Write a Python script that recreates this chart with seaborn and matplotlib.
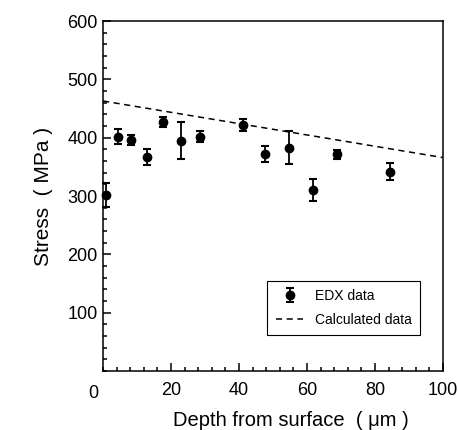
import seaborn as sns
import matplotlib.pyplot as plt
import pandas as pd
from matplotlib.ticker import MultipleLocator

# EDX measurements (depth in um, stress in MPa, error in MPa)
depth = [1, 4.5, 8.2, 12.8, 17.7, 22.8, 28.5, 41.1, 47.8, 54.7, 61.7, 68.7, 84.4]
stress = [302, 402, 396, 367, 427, 395, 402, 422, 372, 383, 310, 372, 342]
stress_err = [20, 12.5, 8.6, 13.4, 8, 32, 9, 10, 14.3, 28, 18.5, 7.7, 14.3]

# calculated stress profile
calc_depth = [0, 100]
calc_stress = [463, 366]

edx = pd.DataFrame({'depth': depth, 'stress': stress, 'err': stress_err})
calc = pd.DataFrame({'depth': calc_depth, 'stress': calc_stress})

sns.set_theme(style='ticks')
plt.rcParams['font.family'] = ['Liberation Sans', 'DejaVu Sans']
plt.rcParams.update({'text.color': 'black', 'axes.labelcolor': 'black',
                     'xtick.color': 'black', 'ytick.color': 'black'})

fig = plt.figure(figsize=(4.58, 4.30), dpi=100)
ax = fig.add_axes([0.225, 0.137, 0.742, 0.814])

sns.lineplot(data=calc, x='depth', y='stress', ax=ax, color='black',
             linewidth=1.1, linestyle=(0, (4, 3)), label='Calculated data')
ax.errorbar(edx['depth'], edx['stress'], yerr=edx['err'], fmt='o',
            color='black', markersize=6, capsize=3, elinewidth=1.3,
            capthick=1.5, label='EDX data', clip_on=False, zorder=3)

ax.set_xlim(0, 100)
ax.set_ylim(0, 600)
ax.xaxis.set_major_locator(MultipleLocator(20))
ax.xaxis.set_minor_locator(MultipleLocator(4))
ax.yaxis.set_major_locator(MultipleLocator(100))
ax.yaxis.set_minor_locator(MultipleLocator(20))
ax.tick_params(which='both', direction='in', top=False, right=False,
               color='black', width=1.1)
ax.tick_params(which='major', length=6, labelsize=13)
ax.tick_params(which='minor', length=3)
ax.tick_params(axis='x', pad=8)
ax.tick_params(axis='y', pad=4)

# shared "0" in the corner, like the original
ax.set_xticks([20, 40, 60, 80, 100])
ax.set_yticks([100, 200, 300, 400, 500, 600])
ax.text(-0.03, -0.065, '0', transform=ax.transAxes, ha='center', va='center',
        fontsize=13)

for s in ax.spines.values():
    s.set_linewidth(1.1)
    s.set_color('black')

ax.set_xlabel('Depth from surface  ( μm )', fontsize=14.5)
ax.xaxis.set_label_coords(0.553, -0.115)
ax.set_ylabel('Stress  ( MPa )', fontsize=15, labelpad=10)

handles, labels = ax.get_legend_handles_labels()
order = [labels.index('EDX data'), labels.index('Calculated data')]
leg = ax.legend([handles[i] for i in order], [labels[i] for i in order],
                loc='lower right', bbox_to_anchor=(0.932, 0.103), fontsize=10,
                fancybox=False, edgecolor='black', framealpha=1,
                handlelength=2, borderpad=0.6, labelspacing=0.7,
                borderaxespad=0)
leg.get_frame().set_linewidth(0.8)

fig.savefig('out.png', dpi=100)
